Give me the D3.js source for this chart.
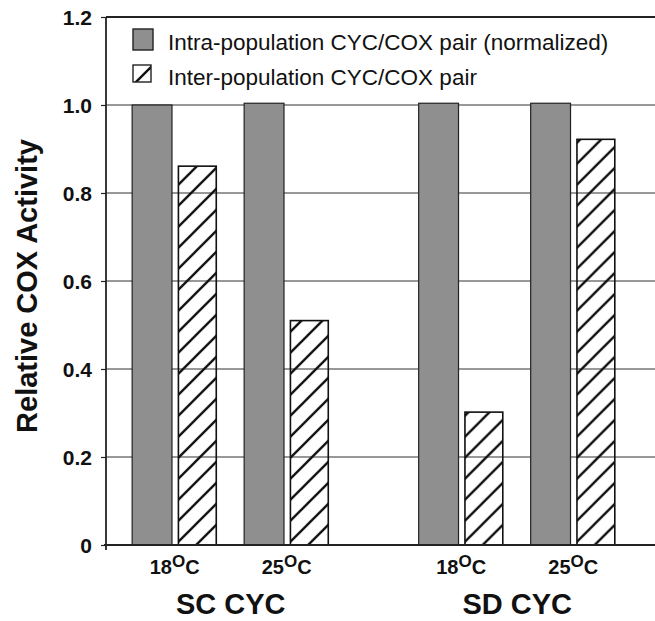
<!DOCTYPE html>
<html>
<head>
	<meta charset="utf-8">
	<title></title>
	<style type="text/css">
		body{
			margin: 0;
			background-color: #ffffff;
		}
		svg text{
			font-family: "Liberation Sans", Arial, sans-serif;
			fill: #111;
		}
	</style>
</head>
<body>
	<svg id="container" width="655" height="621">
		<defs>
			<pattern id="hatch" patternUnits="userSpaceOnUse" width="21" height="21">
				<path d="M0,21 L21,0 M-6,6 L6,-6 M15,27 L27,15" stroke="#111" stroke-width="2.4"></path>
			</pattern>
		</defs>
		<g id="grid"></g>
		<g id="body"></g>
		<g id="yAxis"></g>
		<g id="xAxis"></g>
		<g id="legend"></g>
	</svg>

<script src="https://cdn.jsdelivr.net/npm/d3@7"></script>
<script type="text/javascript">
	// data
	let groups = ["SC CYC", "SD CYC"]
	let temps = ["18", "25"]
	let seriesNames = ["Intra-population CYC/COX pair (normalized)", "Inter-population CYC/COX pair"]
	let intraValues = [1.0, 1.004, 1.004, 1.004]   // SC18, SC25, SD18, SD25
	let interValues = [0.861, 0.510, 0.302, 0.922]
	let yTicks = [0, 0.2, 0.4, 0.6, 0.8, 1.0, 1.2]

	let rows = []
	groups.forEach((g, gi) => temps.forEach((t, ti) => {
		let k = gi * temps.length + ti
		rows.push({group: g, temp: t, intra: intraValues[k], inter: interValues[k]})
	}))

	let mLeft = 106, mRight = 655, mTop = 17, mBottom = 545
	let container = d3.select("#container")

	let y = d3.scaleLinear().domain([0, 1.2]).range([mBottom, mTop])

	let x0 = d3.scaleBand().domain(groups).range([mLeft, mRight])
		.paddingInner(0.312).paddingOuter(0.114).align(0.4)
	let x1 = d3.scaleBand().domain(temps).range([0, x0.bandwidth()])
		.paddingInner(0.24)
	let x2 = d3.scaleBand().domain(["intra", "inter"]).range([0, x1.bandwidth()])
		.paddingInner(0.12)

	// gridlines
	d3.select("#grid").selectAll("line")
		.data(yTicks.filter(d => d > 0))
		.enter().append("line")
		.attr("x1", mLeft).attr("x2", mRight)
		.attr("y1", d => y(d)).attr("y2", d => y(d))
		.attr("stroke", d => d == 1.2 ? "#222" : "#333")
		.attr("stroke-width", d => d == 1.2 ? 1.8 : 1.1)

	// bars
	let body = d3.select("#body")
	let cells = body.selectAll("g")
		.data(rows)
		.enter().append("g")
		.attr("transform", d => "translate(" + (x0(d.group) + x1(d.temp)) + ",0)")

	cells.append("rect")
		.attr("x", x2("intra"))
		.attr("width", x2.bandwidth())
		.attr("y", d => y(d.intra))
		.attr("height", d => y(0) - y(d.intra))
		.attr("fill", "#8f8f8f")
		.attr("stroke", "#222")
		.attr("stroke-width", 1.2)

	cells.append("rect")
		.attr("x", x2("inter") + 1)
		.attr("width", x2.bandwidth() - 2)
		.attr("y", d => y(d.inter))
		.attr("height", d => y(0) - y(d.inter))
		.attr("fill", "url(#hatch)")
		.attr("stroke", "#111")
		.attr("stroke-width", 1.6)

	// y axis
	let yAxis = d3.axisLeft(y)
		.tickValues(yTicks)
		.tickSize(5)
		.tickFormat(d => d == 0 ? "0" : d3.format(".1f")(d))
	d3.select("#yAxis")
		.attr("transform", "translate(" + mLeft + ",0)")
		.call(yAxis)
		.call(g => g.select(".domain").attr("stroke", "#222").attr("stroke-width", 1.8).attr("d", "M0," + mTop + "V" + (mBottom + 5)))
		.call(g => g.selectAll(".tick line").attr("stroke", "#222").attr("stroke-width", 1.2))
		.call(g => g.selectAll(".tick text").attr("x", -14).attr("dy", "0.36em")
			.style("font-size", "21px").style("font-weight", "bold").style("font-family", "Liberation Sans, Arial, sans-serif").attr("fill", "#111"))

	// x axis line
	d3.select("#xAxis").append("line")
		.attr("x1", mLeft - 2).attr("x2", mRight)
		.attr("y1", y(0)).attr("y2", y(0))
		.attr("stroke", "#222").attr("stroke-width", 1.8)

	// temperature labels
	let tl = d3.select("#xAxis").selectAll("text.temp")
		.data(rows)
		.enter().append("text")
		.attr("class", "temp")
		.attr("x", d => x0(d.group) + x1(d.temp) + x1.bandwidth() / 2)
		.attr("y", 574)
		.attr("text-anchor", "middle")
		.style("font-size", "20px")
		.style("font-weight", "bold")
	tl.append("tspan").text(d => d.temp)
	tl.append("tspan").text("O").attr("dy", -7).style("font-size", "17px")
	tl.append("tspan").text("C").attr("dy", 7)

	// group labels
	d3.select("#xAxis").selectAll("text.group")
		.data(groups)
		.enter().append("text")
		.attr("class", "group")
		.attr("x", d => x0(d) + x0.bandwidth() / 2)
		.attr("y", 614)
		.attr("text-anchor", "middle")
		.style("font-size", "29px")
		.style("font-weight", "bold")
		.text(d => d)

	// y title
	container.append("text")
		.text("Relative COX Activity")
		.attr("text-anchor", "middle")
		.attr("transform", "translate(37,286) rotate(-90)")
		.style("font-size", "29px")
		.style("font-weight", "bold")

	// legend
	let legend = d3.select("#legend")
	let lg = legend.selectAll("g")
		.data(seriesNames)
		.enter().append("g")
		.attr("transform", (d, i) => "translate(133," + (29 + i * 35) + ")")
	lg.append("rect")
		.attr("y", (d, i) => i == 0 ? 0 : 1)
		.attr("width", (d, i) => i == 0 ? 20 : 18)
		.attr("height", (d, i) => i == 0 ? 21 : 17)
		.attr("fill", (d, i) => i == 0 ? "#8f8f8f" : "url(#hatch)")
		.attr("stroke", "#222")
		.attr("stroke-width", 1.4)
	lg.append("text")
		.attr("x", 35)
		.attr("y", 21)
		.style("font-size", "22.5px")
		.text(d => d)
</script>
</body>
</html>
